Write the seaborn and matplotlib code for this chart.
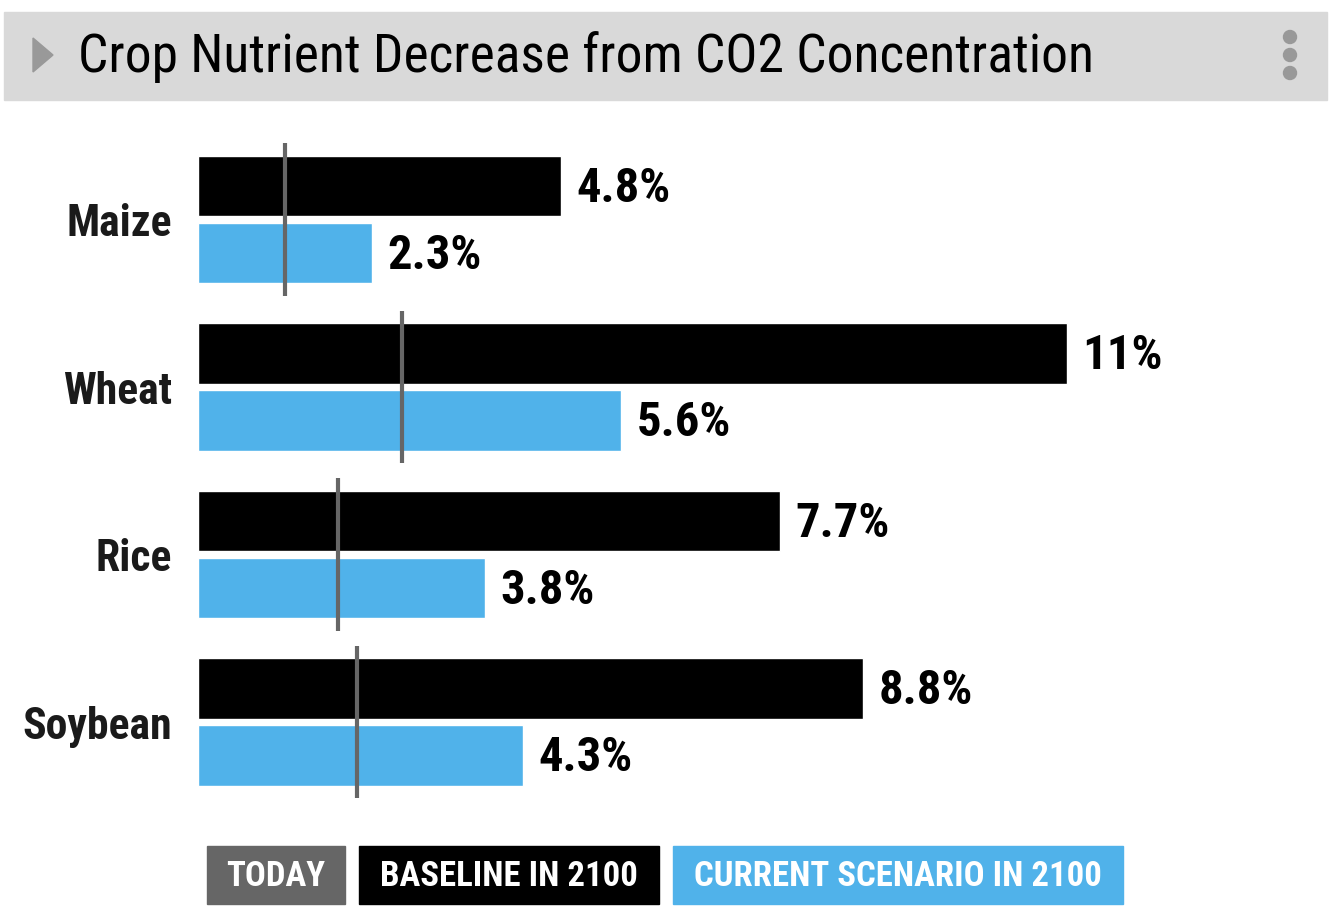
import matplotlib
matplotlib.use('Agg')
import matplotlib.pyplot as plt
import matplotlib.font_manager as fm
from matplotlib.patches import Rectangle, Polygon, Ellipse
import pandas as pd
import seaborn as sns

crops = ['Maize', 'Wheat', 'Rice', 'Soybean']
baseline_2100 = [4.8, 11.5, 7.7, 8.8]
current_2100 = [2.3, 5.6, 3.8, 4.3]
today = [1.15, 2.7, 1.85, 2.1]
baseline_labels = ['4.8%', '11%', '7.7%', '8.8%']
current_labels = ['2.3%', '5.6%', '3.8%', '4.3%']
legend_labels = ['TODAY', 'BASELINE IN 2100', 'CURRENT SCENARIO IN 2100']

BLUE = '#50b2ea'
GRAY = '#666666'

names = {f.name for f in fm.fontManager.ttflist}
font = next((f for f in ['Roboto Condensed', 'Liberation Sans Narrow', 'Roboto'] if f in names), 'DejaVu Sans')

sns.set_theme(style='white')
plt.rcParams['font.family'] = [font, 'DejaVu Sans']
plt.rcParams['text.color'] = 'black'

df = pd.DataFrame({
    'crop': crops * 2,
    'value': baseline_2100 + current_2100,
    'series': ['Baseline'] * 4 + ['Current'] * 4,
})

W, H = 1340, 922
fig = plt.figure(figsize=(W / 100, H / 100), dpi=100)

def fx(px):
    return px / W

def fy(py):
    return 1 - py / H

# header bar
fig.patches.append(Rectangle((fx(4), fy(100)), fx(1323), 88 / H, transform=fig.transFigure,
                             color='#d9d9d9', zorder=0))
fig.patches.append(Polygon([(fx(33), fy(38)), (fx(33), fy(72)), (fx(53), fy(55))],
                           closed=True, transform=fig.transFigure, color='#999999'))
for yy in [37, 55, 73]:
    fig.patches.append(Ellipse((fx(1290), fy(yy)), 13 / W, 13 / H, transform=fig.transFigure,
                               color='#999999'))
fig.text(fx(78), fy(57), 'Crop Nutrient Decrease from CO2 Concentration', fontsize=38.5,
         va='center', ha='left', color='black')

top, bottom = 135.75, 805.75
ax = fig.add_axes([fx(198), fy(bottom), 1134 / W, (bottom - top) / H])
sns.barplot(data=df, y='crop', x='value', hue='series', orient='h', order=crops,
            palette=['black', BLUE], width=0.8, gap=0.1, saturation=1, legend=False, ax=ax)
ax.vlines(today, [i - 0.455 for i in range(4)], [i + 0.455 for i in range(4)],
          color=GRAY, lw=3, zorder=5)

for i in range(4):
    ax.annotate(baseline_labels[i], (baseline_2100[i], i - 0.2), xytext=(11, -2),
                textcoords='offset points', va='center', ha='left', fontsize=35,
                fontweight='bold', color='black')
    ax.annotate(current_labels[i], (current_2100[i], i + 0.2), xytext=(11, -2),
                textcoords='offset points', va='center', ha='left', fontsize=35,
                fontweight='bold', color='black')

ax.set_xlim(0, 15)
ax.set_ylim(3.5, -0.5)
ax.set_xticks([])
ax.set_xlabel('')
ax.set_ylabel('')
ax.tick_params(axis='y', length=0, pad=19, labelsize=31.5)
for lbl in ax.get_yticklabels():
    lbl.set_fontweight('bold')
    lbl.set_color('#1a1a1a')
sns.despine(ax=ax, left=True, bottom=True)

# legend boxes
boxes = [(207, 345, GRAY), (359, 659, 'black'), (673, 1123, BLUE)]
for (x0, x1, c), txt in zip(boxes, legend_labels):
    fig.patches.append(Rectangle((fx(x0), fy(904)), (x1 - x0) / W, 58 / H, transform=fig.transFigure,
                                 color=c))
    fig.text(fx((x0 + x1) / 2), fy(876), txt, color='white', fontsize=25, fontweight='bold',
             ha='center', va='center')

fig.savefig('out.png', dpi=100)
